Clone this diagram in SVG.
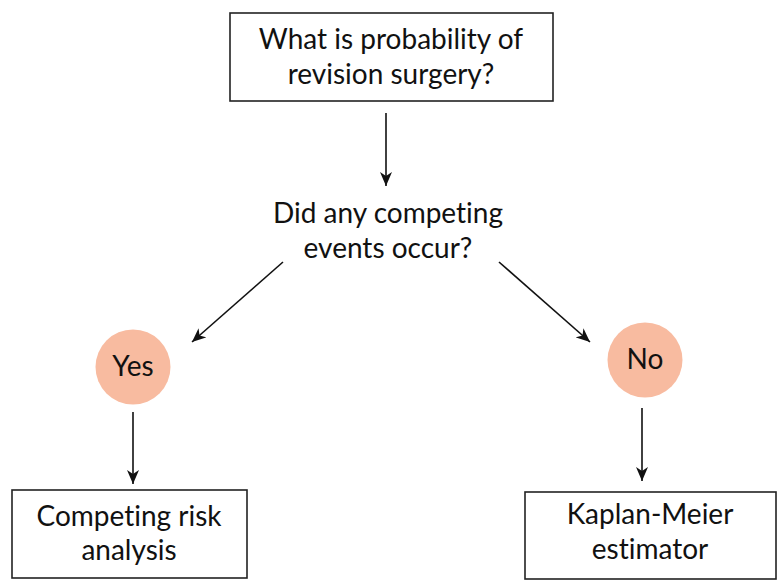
<svg xmlns="http://www.w3.org/2000/svg" width="784" height="588" viewBox="0 0 784 588">
<defs>
<marker id="ah" viewBox="0 0 14 12" refX="14" refY="6" markerWidth="14" markerHeight="12" markerUnits="userSpaceOnUse" orient="auto">
<path d="M0,0 L14,6 L0,12 L4,6 Z" fill="#111"/>
</marker>
</defs>
<style>
text{font-family:Lato,"Liberation Sans",sans-serif;font-size:28px;fill:#111;text-anchor:middle;font-variant-ligatures:none;font-feature-settings:"liga" 0}
.box{fill:#fff;stroke:#222;stroke-width:1.6}
.circ{fill:#F8BBA0}
.conn line{stroke:#111;stroke-width:1.6;marker-end:url(#ah)}
</style>
<rect width="784" height="588" fill="#fff"/>
<g id="question">
<rect class="box" x="230" y="13" width="323" height="88"/>
<text x="391" y="49">What is probability of</text>
<text x="391" y="84">revision surgery?</text>
</g>
<g id="competing">
<text x="388" y="223">Did any competing</text>
<text x="388" y="258">events occur?</text>
</g>
<g id="yes">
<circle class="circ" cx="133" cy="367" r="37.5"/>
<text x="133" y="376">Yes</text>
</g>
<g id="no">
<circle class="circ" cx="645" cy="360" r="37.5"/>
<text x="645" y="369">No</text>
</g>
<g id="cra">
<rect class="box" x="12" y="490" width="235" height="88"/>
<text x="129" y="526">Competing risk</text>
<text x="129" y="560">analysis</text>
</g>
<g id="km">
<rect class="box" x="525" y="492" width="251" height="87"/>
<text x="650" y="524">Kaplan-Meier</text>
<text x="650" y="559">estimator</text>
</g>
<g id="connectors" class="conn">
<line x1="386" y1="113" x2="386" y2="186"/>
<line x1="283" y1="262" x2="192" y2="342"/>
<line x1="499" y1="262" x2="590" y2="342"/>
<line x1="133" y1="412" x2="133" y2="484"/>
<line x1="642" y1="408" x2="642" y2="481"/>
</g>
</svg>
